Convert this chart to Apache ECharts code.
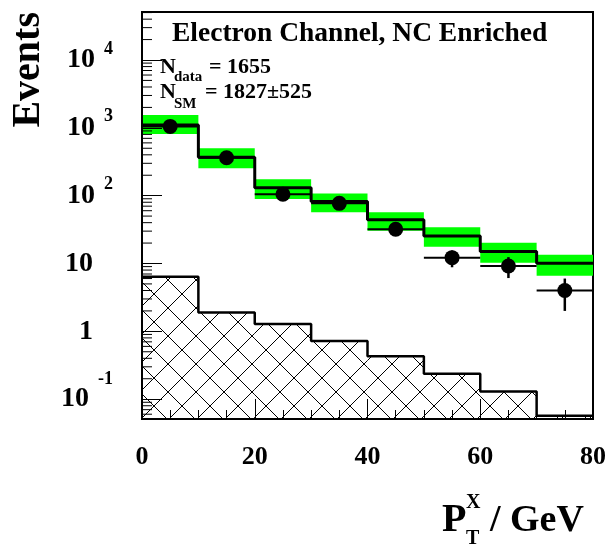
<!DOCTYPE html>
<html>
<head>
<meta charset="utf-8">
<script src="https://cdn.jsdelivr.net/npm/echarts@6/dist/echarts.min.js"></script>
<style>
html, body { margin: 0; padding: 0; background: #fff; }
#chart { width: 610px; height: 549px; }
</style>
</head>
<body>
<div id="chart"></div>
<script>
// bins in P_T^X (GeV)
var binEdges = [0, 10, 20, 30, 40, 50, 60, 70, 80];
// SM prediction and its error band
var smValues = [1100, 368, 131, 82, 44, 25.5, 15, 10.1];
var smLow = [810, 253, 89, 57, 30.5, 17.7, 10.3, 6.6];
var smHigh = [1540, 499, 175, 108, 57, 34.3, 20.3, 13.4];
// hatched background
var bgValues = [6.4, 1.89, 1.28, 0.72, 0.43, 0.237, 0.13, 0.057];
// data points
var dataValues = [1050, 362, 105, 77, 32, 12.2, 9.2, 4.0];
var dataErrLow = [1018, 343, 95, 68, 26, 8.8, 6.1, 2.0];
var dataErrHigh = [1082, 381, 115, 86, 38, 15.6, 12.4, 6.0];
// axis
var yMin = 0.051, yMax = 51000;
var xTicks = [0, 20, 40, 60, 80];
var yDecades = [0.01, 0.1, 1, 10, 100, 1000, 10000];
var yMinorSteps = [2, 3, 4, 5, 6, 7, 8, 9];

var serif = '"Liberation Serif", "DejaVu Serif", serif';

var chart = echarts.init(document.getElementById('chart'));

/*hatch pattern*/
function makeHatch() {
	var c = document.createElement('canvas');
	c.width = 28;
	c.height = 28;
	var ctx = c.getContext('2d');
	ctx.strokeStyle = '#000';
	ctx.lineWidth = 1;
	ctx.beginPath();
	ctx.moveTo(0, 0);
	ctx.lineTo(28, 28);
	ctx.moveTo(28, 0);
	ctx.lineTo(0, 28);
	ctx.stroke();
	return c;
}
var hatch = makeHatch();

/*step line points*/
function stepPoints(vals) {
	var pts = [];
	for (var i = 0; i < vals.length; i++) {
		pts.push([binEdges[i], vals[i]]);
	}
	pts.push([binEdges[vals.length], vals[vals.length - 1]]);
	return pts;
}

var bandData = [], bgData = [], errData = [], dotData = [];
for (var i = 0; i < smValues.length; i++) {
	bandData.push([binEdges[i], binEdges[i + 1], smLow[i], smHigh[i]]);
	bgData.push([binEdges[i], binEdges[i + 1], bgValues[i]]);
	errData.push([binEdges[i], binEdges[i + 1], dataValues[i], dataErrLow[i], dataErrHigh[i]]);
	dotData.push([(binEdges[i] + binEdges[i + 1]) / 2, dataValues[i]]);
}

var minorData = [];
yDecades.forEach(function(d) {
	yMinorSteps.forEach(function(m) {
		var v = d * m;
		if (v > yMin && v < yMax) minorData.push([0, v]);
	});
});

function yLabel(v) {
	var lg = Math.log10(v);
	var e = Math.round(lg);
	if (Math.abs(lg - e) > 0.01) return '';
	if (e == 0) return '{p|1}';
	if (e == 1) return '{p|10}';
	if (e < 0) return '{bn|10}{e|' + e + '}';
	return '{b|10}{e|' + e + '}';
}

function txt(text, x, y, size, align) {
	return {
		type: 'text',
		x: x,
		y: y,
		z: 100,
		style: {
			text: text,
			font: 'bold ' + size + 'px ' + serif,
			fill: '#000',
			textAlign: align || 'left',
			textVerticalAlign: 'middle',
			align: align || 'left',
			verticalAlign: 'middle'
		}
	};
}

var eventsLabel = txt('Events', 29, 12, 40, 'right');
eventsLabel.rotation = Math.PI / 2;

var option = {
	animation: false,
	backgroundColor: '#fff',
	grid: {
		left: 142,
		right: 17,
		top: 12,
		bottom: 130,
		show: true,
		borderColor: '#000',
		borderWidth: 2,
		backgroundColor: 'transparent'
	},
	xAxis: {
		type: 'value',
		min: xTicks[0],
		max: xTicks[xTicks.length - 1],
		interval: 20,
		z: 10,
		axisLine: { show: true, lineStyle: { color: '#000', width: 2 } },
		axisTick: { show: true, inside: true, length: 20, lineStyle: { color: '#000', width: 1 } },
		minorTick: { show: true, splitNumber: 4, length: 9, lineStyle: { color: '#000', width: 1 } },
		splitLine: { show: false },
		axisLabel: {
			margin: 25,
			color: '#000',
			fontFamily: serif,
			fontWeight: 'bold',
			fontSize: 26
		}
	},
	yAxis: {
		type: 'log',
		logBase: 10,
		min: yMin,
		max: yMax,
		z: 10,
		axisLine: { show: true, lineStyle: { color: '#000', width: 2 } },
		axisTick: { show: true, inside: true, length: 20, lineStyle: { color: '#000', width: 1 } },
		splitLine: { show: false },
		axisLabel: {
			margin: 29,
			color: '#000',
			formatter: yLabel,
			rich: {
				b: { fontFamily: serif, fontWeight: 'bold', fontSize: 28, lineHeight: 40, color: '#000' },
				bn: { fontFamily: serif, fontWeight: 'bold', fontSize: 28, lineHeight: 58, color: '#000' },
				p: { fontFamily: serif, fontWeight: 'bold', fontSize: 28, lineHeight: 40, padding: [0, 20, 0, 0], color: '#000' },
				e: { fontFamily: serif, fontWeight: 'bold', fontSize: 18, lineHeight: 18, verticalAlign: 'top', padding: [0, 0, 0, 9], color: '#000' }
			}
		}
	},
	series: [{
		/*SM error band*/
		type: 'custom',
		z: 1,
		silent: true,
		encode: { x: [0, 1], y: [2, 3] },
		data: bandData,
		renderItem: function(params, api) {
			var a = api.coord([api.value(0), api.value(3)]);
			var b = api.coord([api.value(1), api.value(2)]);
			return {
				type: 'rect',
				shape: { x: a[0], y: a[1], width: b[0] - a[0], height: b[1] - a[1] },
				style: { fill: '#00ff00' }
			};
		}
	}, {
		/*hatched background*/
		type: 'custom',
		z: 2,
		silent: true,
		encode: { x: [0, 1], y: 2 },
		data: bgData,
		renderItem: function(params, api) {
			var a = api.coord([api.value(0), api.value(2)]);
			var b = api.coord([api.value(1), api.value(2)]);
			var bottom = params.coordSys.y + params.coordSys.height;
			return {
				type: 'rect',
				shape: { x: a[0], y: a[1], width: b[0] - a[0], height: bottom - a[1] },
				style: { fill: { image: hatch, repeat: 'repeat' } }
			};
		}
	}, {
		type: 'line',
		z: 3,
		step: 'end',
		showSymbol: false,
		symbol: 'none',
		silent: true,
		lineStyle: { color: '#000', width: 2.5 },
		data: stepPoints(bgValues)
	}, {
		/*SM histogram*/
		type: 'line',
		z: 4,
		step: 'end',
		showSymbol: false,
		symbol: 'none',
		silent: true,
		lineStyle: { color: '#000', width: 3 },
		data: stepPoints(smValues)
	}, {
		/*data error bars*/
		type: 'custom',
		z: 5,
		silent: true,
		encode: { x: [0, 1], y: [2, 3, 4] },
		data: errData,
		renderItem: function(params, api) {
			var l = api.coord([api.value(0), api.value(2)]);
			var r = api.coord([api.value(1), api.value(2)]);
			var xc = (api.value(0) + api.value(1)) / 2;
			var lo = api.coord([xc, api.value(3)]);
			var hi = api.coord([xc, api.value(4)]);
			return {
				type: 'group',
				children: [{
					type: 'line',
					shape: { x1: l[0], y1: l[1], x2: r[0], y2: r[1] },
					style: { stroke: '#000', lineWidth: 2 }
				}, {
					type: 'line',
					shape: { x1: lo[0], y1: lo[1], x2: hi[0], y2: hi[1] },
					style: { stroke: '#000', lineWidth: 2.5 }
				}]
			};
		}
	}, {
		type: 'scatter',
		z: 6,
		silent: true,
		symbol: 'circle',
		symbolSize: 15,
		itemStyle: { color: '#000', opacity: 1, borderWidth: 0 },
		data: dotData
	}, {
		/*log minor ticks*/
		type: 'custom',
		z: 10,
		silent: true,
		encode: { x: 0, y: 1 },
		data: minorData,
		renderItem: function(params, api) {
			var p = api.coord([0, api.value(1)]);
			return {
				type: 'line',
				shape: { x1: p[0], y1: p[1], x2: p[0] + 10, y2: p[1] },
				style: { stroke: '#000', lineWidth: 1 }
			};
		}
	}],
	graphic: [
		txt('Electron Channel, NC Enriched', 172, 33.5, 27.5),
		txt('N', 160, 67.5, 22),
		txt('data', 174, 77.5, 15),
		txt('= 1655', 209, 67.5, 22),
		txt('N', 160, 92.5, 22),
		txt('SM', 174, 104, 15),
		txt('= 1827\u00b1525', 205, 92.5, 22),
		eventsLabel,
		txt('P', 442, 521, 40),
		txt('X', 466, 503, 20),
		txt('T', 466, 539, 20),
		txt('/ GeV', 490, 521, 38)
	]
};

chart.setOption(option);
</script>
</body>
</html>
